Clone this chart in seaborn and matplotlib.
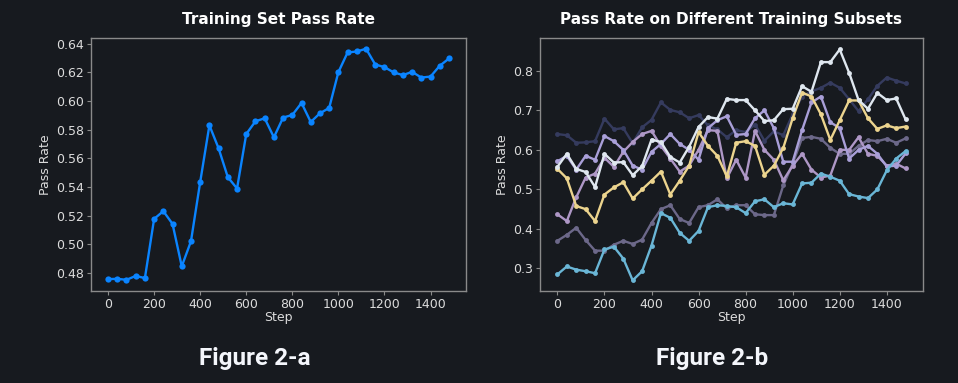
import numpy as np
import pandas as pd
import matplotlib
matplotlib.use("Agg")
import matplotlib.pyplot as plt
import seaborn as sns

steps = list(range(0, 1481, 40))

train_pass = [0.4758, 0.476, 0.4753, 0.478, 0.4765, 0.5178, 0.5232, 0.5143, 0.4847, 0.5022,
              0.5435, 0.5831, 0.567, 0.5469, 0.539, 0.577, 0.5859, 0.588, 0.5747, 0.5885,
              0.5903, 0.5987, 0.5854, 0.5915, 0.5952, 0.6202, 0.6339, 0.6346, 0.6365, 0.6255,
              0.6237, 0.620, 0.6181, 0.6204, 0.6164, 0.6171, 0.6246, 0.6297]

subset_navy = [0.64, 0.637, 0.618, 0.619, 0.622, 0.679, 0.652, 0.655, 0.617, 0.657,
               0.676, 0.72, 0.701, 0.695, 0.68, 0.688, 0.662, 0.652, 0.632, 0.65,
               0.645, 0.664, 0.623, 0.647, 0.637, 0.69, 0.735, 0.748, 0.757, 0.77,
               0.757, 0.728, 0.698, 0.728, 0.762, 0.783, 0.775, 0.768]
subset_white = [0.557, 0.59, 0.552, 0.544, 0.506, 0.59, 0.568, 0.569, 0.536, 0.559,
                0.626, 0.62, 0.582, 0.568, 0.608, 0.658, 0.683, 0.679, 0.729, 0.726,
                0.726, 0.70, 0.673, 0.675, 0.703, 0.704, 0.761, 0.747, 0.822, 0.822,
                0.854, 0.795, 0.726, 0.704, 0.744, 0.726, 0.73, 0.677]
subset_lavender = [0.571, 0.585, 0.55, 0.585, 0.575, 0.635, 0.622, 0.60, 0.56, 0.55,
                   0.595, 0.615, 0.64, 0.615, 0.60, 0.575, 0.655, 0.675, 0.685, 0.638,
                   0.64, 0.68, 0.70, 0.655, 0.57, 0.57, 0.65, 0.72, 0.735, 0.67,
                   0.655, 0.578, 0.60, 0.61, 0.59, 0.558, 0.56, 0.591]
subset_mauve = [0.437, 0.42, 0.48, 0.53, 0.54, 0.58, 0.557, 0.595, 0.62, 0.64,
                0.648, 0.61, 0.578, 0.545, 0.56, 0.60, 0.65, 0.648, 0.528, 0.575,
                0.53, 0.648, 0.60, 0.575, 0.523, 0.56, 0.59, 0.55, 0.53, 0.535,
                0.60, 0.60, 0.632, 0.59, 0.585, 0.56, 0.565, 0.553]
subset_yellow = [0.552, 0.528, 0.458, 0.45, 0.42, 0.487, 0.505, 0.518, 0.477, 0.50,
                 0.522, 0.545, 0.487, 0.522, 0.56, 0.645, 0.61, 0.585, 0.533, 0.618,
                 0.622, 0.61, 0.537, 0.56, 0.605, 0.68, 0.745, 0.735, 0.69, 0.625,
                 0.675, 0.725, 0.725, 0.68, 0.653, 0.662, 0.655, 0.659]
subset_gray = [0.37, 0.385, 0.403, 0.372, 0.345, 0.345, 0.36, 0.37, 0.362, 0.373,
               0.415, 0.45, 0.46, 0.425, 0.415, 0.455, 0.46, 0.475, 0.452, 0.46,
               0.46, 0.437, 0.435, 0.435, 0.51, 0.565, 0.63, 0.633, 0.628, 0.605,
               0.59, 0.59, 0.61, 0.625, 0.622, 0.628, 0.618, 0.629]
subset_blue = [0.285, 0.305, 0.297, 0.293, 0.288, 0.348, 0.355, 0.325, 0.27, 0.293,
               0.358, 0.44, 0.428, 0.39, 0.37, 0.395, 0.455, 0.46, 0.458, 0.455,
               0.44, 0.47, 0.475, 0.455, 0.465, 0.462, 0.515, 0.517, 0.54, 0.532,
               0.522, 0.488, 0.482, 0.478, 0.50, 0.548, 0.578, 0.597]

subset_names = ["navy", "gray", "mauve", "lavender", "yellow", "blue", "white"]
subset_colors = ["#353b5e", "#6c6889", "#ae97c6", "#a99fd8", "#ecd48e", "#6ab6d6", "#dfe7ef"]
subset_values = [subset_navy, subset_gray, subset_mauve, subset_lavender,
                 subset_yellow, subset_blue, subset_white]

BG = "#171a1f"
TXT = "#dcdcdc"

sns.set_theme(style="dark")
plt.rcParams.update({
    "figure.facecolor": BG,
    "axes.facecolor": BG,
    "savefig.facecolor": BG,
    "axes.edgecolor": "#8a8a8a",
    "text.color": TXT,
    "axes.labelcolor": TXT,
    "xtick.color": TXT,
    "ytick.color": TXT,
})
plt.rcParams["font.family"] = ["DejaVu Sans"]

fig = plt.figure(figsize=(9.58, 3.83), dpi=100)
W, H = 958, 383
axL = fig.add_axes([91 / W, 1 - 291 / H, (466 - 91) / W, (291 - 38) / H])
axR = fig.add_axes([540 / W, 1 - 291 / H, (923 - 540) / W, (291 - 38) / H])

dfL = pd.DataFrame({"Step": steps, "Pass Rate": train_pass})
sns.lineplot(data=dfL, x="Step", y="Pass Rate", ax=axL, color="#0a84ff",
             marker="o", markersize=4.5, markeredgewidth=0, linewidth=1.7)

rows = []
for name, vals in zip(subset_names, subset_values):
    for s, v in zip(steps, vals):
        rows.append({"Step": s, "Pass Rate": v, "subset": name})
dfR = pd.DataFrame(rows)
sns.lineplot(data=dfR, x="Step", y="Pass Rate", hue="subset", ax=axR,
             palette=dict(zip(subset_names, subset_colors)), hue_order=subset_names,
             marker="o", markersize=3.5, markeredgewidth=0, linewidth=1.7, legend=False)

for ax, title in [(axL, "Training Set Pass Rate"), (axR, "Pass Rate on Different Training Subsets")]:
    ax.set_title(title, fontsize=11, fontweight="bold", color="white", pad=10)
    ax.set_xlabel("Step", fontsize=9, labelpad=0)
    ax.set_ylabel("Pass Rate", fontsize=9, labelpad=3)
    ax.tick_params(axis="both", labelsize=9, length=3, width=0.8, color="#8a8a8a",
                   bottom=True, left=True, pad=2)
    ax.set_xticks([0, 200, 400, 600, 800, 1000, 1200, 1400])
    ax.set_xlim(-74, 1554)
    for sp in ax.spines.values():
        sp.set_color("#8a8a8a")
        sp.set_linewidth(1.0)
    ax.grid(False)

axL.set_ylim(0.4675, 0.644)
axL.set_yticks([0.48, 0.50, 0.52, 0.54, 0.56, 0.58, 0.60, 0.62, 0.64])
axL.set_yticklabels([f"{v:.2f}" for v in [0.48, 0.50, 0.52, 0.54, 0.56, 0.58, 0.60, 0.62, 0.64]])

axR.set_ylim(0.243, 0.883)
axR.set_yticks([0.3, 0.4, 0.5, 0.6, 0.7, 0.8])

fig.text(255 / W, 1 - 358 / H, "Figure 2-a", ha="center", va="center",
         fontsize=17.5, fontweight="bold", color="#f4f6fb", family=["Roboto", "DejaVu Sans"])
fig.text(712 / W, 1 - 358 / H, "Figure 2-b", ha="center", va="center",
         fontsize=17.5, fontweight="bold", color="#f4f6fb", family=["Roboto", "DejaVu Sans"])

fig.savefig("out.png", dpi=100, facecolor=BG)
